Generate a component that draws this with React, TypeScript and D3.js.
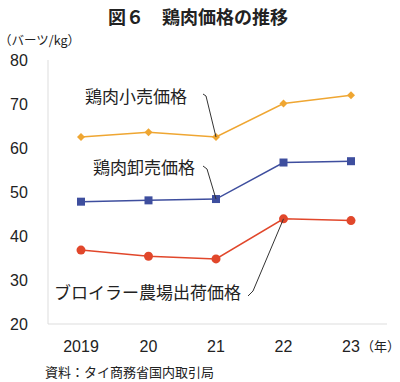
import React from "react";
import * as d3 from "d3";

const years = ["2019", "20", "21", "22", "23"];
const retail = [62.5, 63.6, 62.5, 70.1, 72.0];
const wholesale = [47.8, 48.1, 48.4, 56.7, 57.0];
const broiler = [36.8, 35.4, 34.8, 43.9, 43.5];
const yTicks = [20, 30, 40, 50, 60, 70, 80];

const FONT = "'Noto Sans CJK JP', 'Noto Sans', sans-serif";
const NUM_FONT = "'Liberation Sans', Arial, sans-serif";

export default function App() {
  const W = 400, H = 382;
  const x = d3.scalePoint<string>().domain(years).range([81, 351]);
  const y = d3.scaleLinear().domain([20, 80]).range([324, 60]);
  const line = d3.line<number>().x((_, i) => x(years[i])!).y((d) => y(d));

  const orange = "#EFA632";
  const blue = "#3E4E9E";
  const red = "#E1472B";

  return (
    <svg width={W} height={H} style={{ position: "absolute", left: 0, top: 0, fontFamily: FONT }}>
      <rect width={W} height={H} fill="#fff" />
      <text x={198} y={24} textAnchor="middle" fontSize={18} fontWeight="bold" fill="#222">図６　鶏肉価格の推移</text>
      <text x={-1} y={45} fontSize={12.5} fill="#222">（バーツ/kg）</text>

      <line x1={48} x2={48} y1={60} y2={324} stroke="#ddd" strokeWidth={1} />
      <line x1={48} x2={387} y1={324} y2={324} stroke="#ddd" strokeWidth={1} />

      {yTicks.map((t) => (
        <text key={t} x={19} y={y(t) + 6} textAnchor="middle" fontSize={16} fill="#222" fontFamily={NUM_FONT}>{t}</text>
      ))}
      {years.map((yr) => (
        <text key={yr} x={x(yr)} y={352} textAnchor="middle" fontSize={16} fill="#222" fontFamily={NUM_FONT}>{yr}</text>
      ))}
      <text x={400} y={351} textAnchor="end" fontSize={13} fill="#222">（年）</text>

      <path d={line(retail)!} fill="none" stroke={orange} strokeWidth={1.5} />
      <path d={line(wholesale)!} fill="none" stroke={blue} strokeWidth={1.5} />
      <path d={line(broiler)!} fill="none" stroke={red} strokeWidth={1.5} />

      {retail.map((v, i) => {
        const cx = x(years[i])!, cy = y(v);
        return <path key={i} d={`M${cx},${cy - 4}L${cx + 4},${cy}L${cx},${cy + 4}L${cx - 4},${cy}Z`} fill={orange} />;
      })}
      {wholesale.map((v, i) => (
        <rect key={i} x={x(years[i])! - 4} y={y(v) - 4} width={8} height={8} fill={blue} />
      ))}
      {broiler.map((v, i) => (
        <circle key={i} cx={x(years[i])} cy={y(v)} r={4.5} fill={red} />
      ))}

      <polyline points={`203,94 206,96 ${x("21")},${y(retail[2])}`} fill="none" stroke="#333" strokeWidth={1} />
      <polyline points={`203,166 207,169 ${x("21")},${y(wholesale[2])}`} fill="none" stroke="#333" strokeWidth={1} />
      <polyline points={`248,296 253,291 ${x("22")},${y(broiler[3])}`} fill="none" stroke="#333" strokeWidth={1} />

      <text x={85} y={103} fontSize={17} fill="#222">鶏肉小売価格</text>
      <text x={93} y={174} fontSize={17} fill="#222">鶏肉卸売価格</text>
      <text x={54} y={299} fontSize={17} fill="#222">ブロイラー農場出荷価格</text>

      <text x={45} y={377} fontSize={13} fill="#222">資料：タイ商務省国内取引局</text>
    </svg>
  );
}
